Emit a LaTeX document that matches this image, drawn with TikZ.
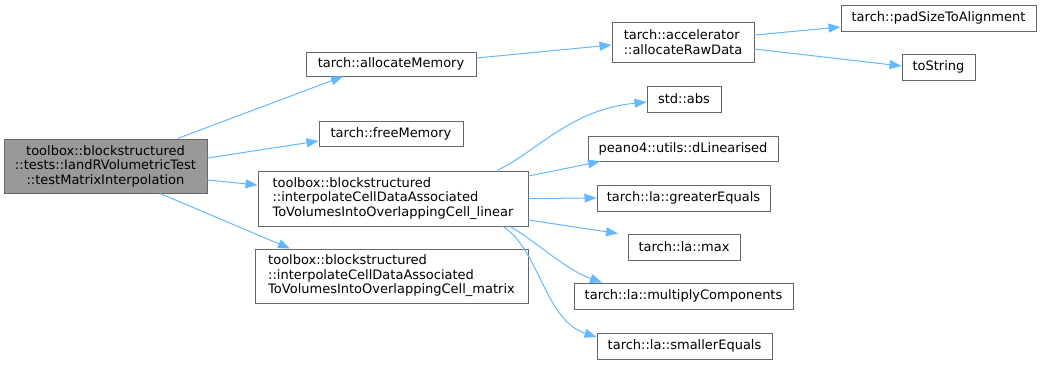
\documentclass[tikz,border=0pt]{standalone}
\usepackage{fontspec}
\setmainfont{DejaVu Sans}
\usetikzlibrary{arrows.meta}
\definecolor{edgeblue}{HTML}{63B8FF}
\definecolor{boxgray}{HTML}{666666}
\definecolor{rootfill}{HTML}{999999}
\begin{document}
\begin{tikzpicture}[x=1pt,y=-1pt,
  fn/.style={draw=boxgray, line width=1pt, fill=white, rectangle, inner sep=0pt,
             font=\fontsize{13}{14.5}\selectfont, align=left},
  rootfn/.style={fn, fill=rootfill, align=center},
  call/.style={draw=edgeblue, line width=1pt, -{Triangle[length=12pt,width=9pt]}}]
\useasboundingbox (0,0) rectangle (1041,364);

% caller
\node[rootfn, minimum width=203pt, minimum height=54pt] (root) at (105.5,166)
  {toolbox::blockstructured\\::tests::IandRVolumetricTest\\::testMatrixInterpolation};

% first level callees
\node[fn, minimum width=170pt, minimum height=24pt] (allocMem) at (391,64) {tarch::allocateMemory};
\node[fn, minimum width=144pt, minimum height=25pt] (freeMem) at (391,134) {tarch::freeMemory};
\node[fn, minimum width=270pt, minimum height=55pt] (linear) at (393,198.5)
  {toolbox::blockstructured\\::interpolateCellDataAssociated\\ToVolumesIntoOverlappingCell\_linear};
\node[fn, minimum width=273pt, minimum height=54pt] (matrix) at (391.5,276)
  {toolbox::blockstructured\\::interpolateCellDataAssociated\\ToVolumesIntoOverlappingCell\_matrix};

% second level callees
\node[fn, minimum width=142pt, minimum height=40pt] (rawData) at (683,42)
  {tarch::accelerator\\::allocateRawData};
\node[fn, minimum width=74pt, minimum height=26pt] (abs) at (684,99) {std::abs};
\node[fn, minimum width=190pt, minimum height=25pt] (dLin) at (683,148.5) {peano4::utils::dLinearised};
\node[fn, minimum width=173pt, minimum height=26pt] (gE) at (683.5,198) {tarch::la::greaterEquals};
\node[fn, minimum width=112pt, minimum height=26pt] (max) at (684,247) {tarch::la::max};
\node[fn, minimum width=219pt, minimum height=26pt] (mult) at (683.5,296) {tarch::la::multiplyComponents};
\node[fn, minimum width=175pt, minimum height=26pt] (sE) at (684.5,346) {tarch::la::smallerEquals};

% third level callees
\node[fn, minimum width=195pt, minimum height=26pt] (pad) at (938.5,18) {tarch::padSizeToAlignment};
\node[fn, minimum width=73pt, minimum height=26pt] (toStr) at (938.5,67) {toString};

% calls
\draw[call] ([xshift=-30pt]root.north east) -- ([xshift=-48pt]allocMem.south);
\draw[call] ([yshift=8pt]root.east) -- ([yshift=-7pt]freeMem.west);
\draw[call] ([yshift=-14pt]root.east) -- ([yshift=13.5pt]linear.west);
\draw[call] ([xshift=54.5pt]root.south) -- ([xshift=-101.5pt]matrix.north);

\draw[call] ([yshift=6pt]allocMem.east) -- ([yshift=-3pt]rawData.west);
\draw[call] ([yshift=7pt]rawData.east) -- ([yshift=-9pt]pad.west);
\draw[call] ([yshift=-7pt]rawData.east) -- ([yshift=1pt]toStr.west);

\draw[call] ([xshift=104pt]linear.north) .. controls +(43,-21) and +(-77,8) .. ([yshift=-3pt]abs.west);
\draw[call] ([yshift=22.5pt]linear.east) -- ([xshift=-83pt]dLin.south);
\draw[call] (linear.east) -- (gE.west);
\draw[call] ([yshift=-21.5pt]linear.east) -- ([xshift=-66pt]max.north);
\draw[call] ([xshift=117pt]linear.south) .. controls +(25,14) and +(-37,-13) .. ([xshift=-81.5pt]mult.north);
\draw[call] ([xshift=110pt]linear.south) .. controls +(37,24) and +(-52,-17) .. ([yshift=9pt]sE.west);
\end{tikzpicture}
\end{document}
